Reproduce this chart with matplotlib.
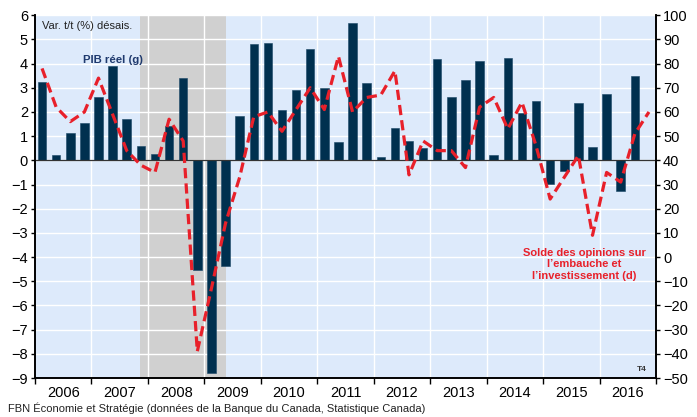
import matplotlib.pyplot as plt
import numpy as np

plt.rcParams['font.family'] = ['Liberation Sans', 'DejaVu Sans']

# Quarters 2006T1 .. 2016T4
years = [str(y) for y in range(2006, 2017)]

# PIB réel, var. t/t (%) désais. (2006T1 .. 2016T3)
gdp = [3.25, 0.2, 1.13, 1.54,
       2.63, 3.92, 1.69, 0.59,
       0.26, 1.43, 3.4, -4.54,
       -8.8, -4.35, 1.84, 4.82,
       4.86, 2.09, 2.9, 4.61,
       3.0, 0.77, 5.68, 3.21,
       0.15, 1.35, 0.8, 0.5,
       4.2, 2.63, 3.33, 4.1,
       0.22, 4.22, 1.96, 2.46,
       -0.98, -0.45, 2.35, 0.55,
       2.74, -1.28, 3.48]

# Solde des opinions sur l'embauche et l'investissement (2006T1 .. 2016T4)
opinions = [78, 62, 56, 60,
            74, 59, 44, 38,
            35, 57, 48, -39,
            -13, 14, 33, 58,
            60, 52, 61, 70,
            61, 83, 60, 66,
            67, 77, 34, 48,
            44, 44, 37, 62,
            66, 53, 64, 46,
            24, 33, 42, 9,
            35, 31, 51, 60]

fig = plt.figure(figsize=(6.97, 4.17), dpi=100)
ax = fig.add_axes([0.0502, 0.0935, 0.891, 0.870])
ax.set_facecolor('#DDEAFB')

x_gdp = np.arange(len(gdp))
x_op = np.arange(len(opinions))

# récession
ax.axvspan(6.95, 13.05, color='#D0D0D0', zorder=0.5, lw=0)

ax.set_ylim(-9, 6)
ax.set_xlim(-0.5, len(opinions) - 0.5)
ax.set_yticks(range(-9, 7))
for yv in range(-9, 7):
    ax.axhline(yv, color='white', lw=1.0, zorder=1)
for b in range(1, len(years)):
    ax.axvline(4 * b - 0.5, color='white', lw=1.0, zorder=1)

ax.bar(x_gdp, gdp, width=0.6, color='#00304F', edgecolor='#1a4766', lw=0.4, zorder=2)
ax.axhline(0, color='#333333', lw=0.9, zorder=3)

ax.set_xticks([4 * b - 0.5 for b in range(len(years) + 1)])
ax.set_xticklabels([])
ax.set_xticks([4 * b + 1.5 for b in range(len(years))], minor=True)
ax.set_xticklabels(years, minor=True)
ax.tick_params(axis='x', which='minor', length=0, labelsize=10.5, pad=6)
ax.tick_params(axis='x', which='major', length=4, width=1, direction='out')
ax.tick_params(axis='y', labelsize=10.5, length=3, width=1, direction='out', pad=2)

ax2 = ax.twinx()
ax2.set_ylim(-50, 100)
ax2.set_yticks(range(-50, 101, 10))
ax2.tick_params(axis='y', labelsize=10.5, length=3, width=1, direction='out', pad=2)
ax2.plot(x_op, opinions, color='#E8202A', lw=2.3, ls=(0, (3.2, 1.6)), zorder=4)

for a in (ax, ax2):
    a.spines['top'].set_visible(False)
    a.spines['left'].set_linewidth(1.2)
    a.spines['right'].set_linewidth(1.2)
    a.spines['bottom'].set_linewidth(1.2)

ax.text(0.012, 0.97, 'Var. t/t (%) désais.', transform=ax.transAxes,
        fontsize=8, va='center', ha='left', color='#222222')
ax.text(5.0, 4.15, 'PIB réel (g)', fontsize=8.2, fontweight='bold',
        color='#1F3A6E', ha='center', va='center')
ax2.text(38.4, -3, 'Solde des opinions sur\nl\u2019embauche et\nl\u2019investissement (d)',
         fontsize=8, fontweight='bold', color='#E8202A', ha='center', va='center',
         linespacing=1.2)
ax.text(0.985, 0.015, 'T4', transform=ax.transAxes, fontsize=6, fontweight='bold',
        color='#333333', ha='right', va='bottom')
fig.text(0.012, 0.008, 'FBN Économie et Stratégie (données de la Banque du Canada, Statistique Canada)',
         fontsize=8, color='#222222', ha='left', va='bottom')

fig.savefig('out.png', dpi=100)
